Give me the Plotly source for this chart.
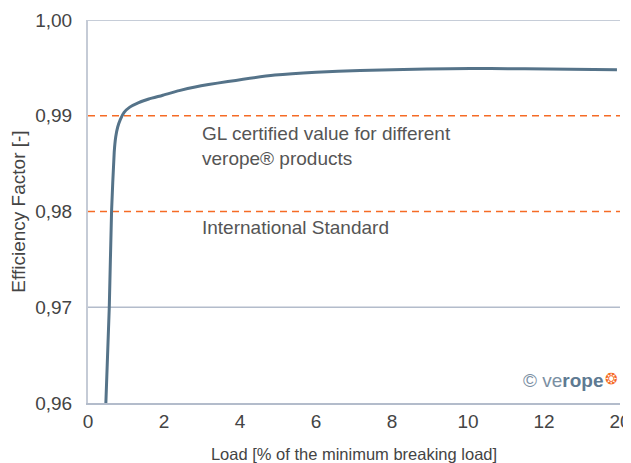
import plotly.graph_objects as go

# Curve data (x in displayed axis units, y efficiency factor)
load = [0.47, 0.56, 0.62, 0.69, 0.73, 0.78, 0.85, 0.95, 1.1, 1.32, 1.6, 1.95, 2.4, 2.82, 3.68, 4.92, 6.0, 7.16, 8.3, 9.53, 10.6, 11.5, 12.7, 13.92]
efficiency = [0.960, 0.970, 0.980, 0.9862, 0.9878, 0.9888, 0.9896, 0.99035, 0.9909, 0.99135, 0.99175, 0.99212, 0.99262, 0.99300, 0.99357, 0.99425, 0.99455, 0.99472, 0.99484, 0.99491, 0.99493, 0.99491, 0.99486, 0.99481]

x_tickvals = [0, 2, 4, 6, 8, 10, 12, 14]
x_ticktext = ["0", "2", "4", "6", "8", "10", "12", "20"]
y_tickvals = [0.96, 0.97, 0.98, 0.99, 1.00]
y_ticktext = ["0,96", "0,97", "0,98", "0,99", "1,00"]

grid_values = [0.97, 1.00]
reference_values = [0.99, 0.98]
reference_labels = ["GL certified value for different<br>verope® products", "International Standard"]
label_y = [0.98945, 0.97965]

FONT = "Liberation Sans, Arial, sans-serif"
GRID = "#b3bccb"
ORANGE = "#f56b25"
LINE = "#557389"

fig = go.Figure()
fig.add_trace(go.Scatter(x=load, y=efficiency, mode="lines",
                         line=dict(color=LINE, width=3, shape="spline", smoothing=0.5),
                         hoverinfo="skip", showlegend=False))

for g in grid_values:
    fig.add_hline(y=g, line=dict(color=GRID, width=1.3), layer="below")
for r in reference_values:
    fig.add_hline(y=r, line=dict(color=ORANGE, width=1.4, dash="7px,5px"), layer="below")
for txt, yv in zip(reference_labels, label_y):
    fig.add_annotation(x=2.95, y=yv, text=txt, xanchor="left", yanchor="top",
                       showarrow=False, align="left",
                       font=dict(family=FONT, size=19, color="#555555"))

# logo
fig.add_annotation(xref="paper", yref="paper", x=0.974, y=0.06, xanchor="right", yanchor="middle",
                   showarrow=False,
                   text="<span style='color:#7b8fa3'>© ve</span><b>rope</b>",
                   font=dict(family=FONT, size=19, color="#5e7a92"))
fig.add_annotation(xref="paper", yref="paper", x=1.0, y=0.062, xanchor="right", yanchor="middle",
                   showarrow=False, text="❂", font=dict(family="DejaVu Sans", size=15, color=ORANGE))

# The page body has an 8px default margin, so the figure is sized to fit the window
fig.update_layout(
    width=623, height=455,
    margin=dict(l=80, r=11, t=12, b=60),
    paper_bgcolor="white", plot_bgcolor="white",
    font=dict(family=FONT, size=19, color="#444444"),
    xaxis=dict(range=[0, 14], tickvals=x_tickvals, ticktext=x_ticktext, automargin=False,
               showgrid=False, zeroline=False, showline=True, linecolor=GRID, linewidth=1.5,
               ticks="", ticklabelstandoff=0,
               title=dict(text="Load [% of the minimum breaking load]", standoff=19,
                          font=dict(family=FONT, size=16.5, color="#444444"))),
    yaxis=dict(range=[0.96, 1.00], tickvals=y_tickvals, ticktext=y_ticktext, automargin=False,
               showgrid=False, zeroline=False, showline=True, linecolor="#c5cbd6", linewidth=2,
               ticks="", ticklabelstandoff=10,
               title=dict(text="Efficiency Factor [-]", standoff=12,
                          font=dict(family=FONT, size=19, color="#444444"))),
)

fig.write_html("out.html")
